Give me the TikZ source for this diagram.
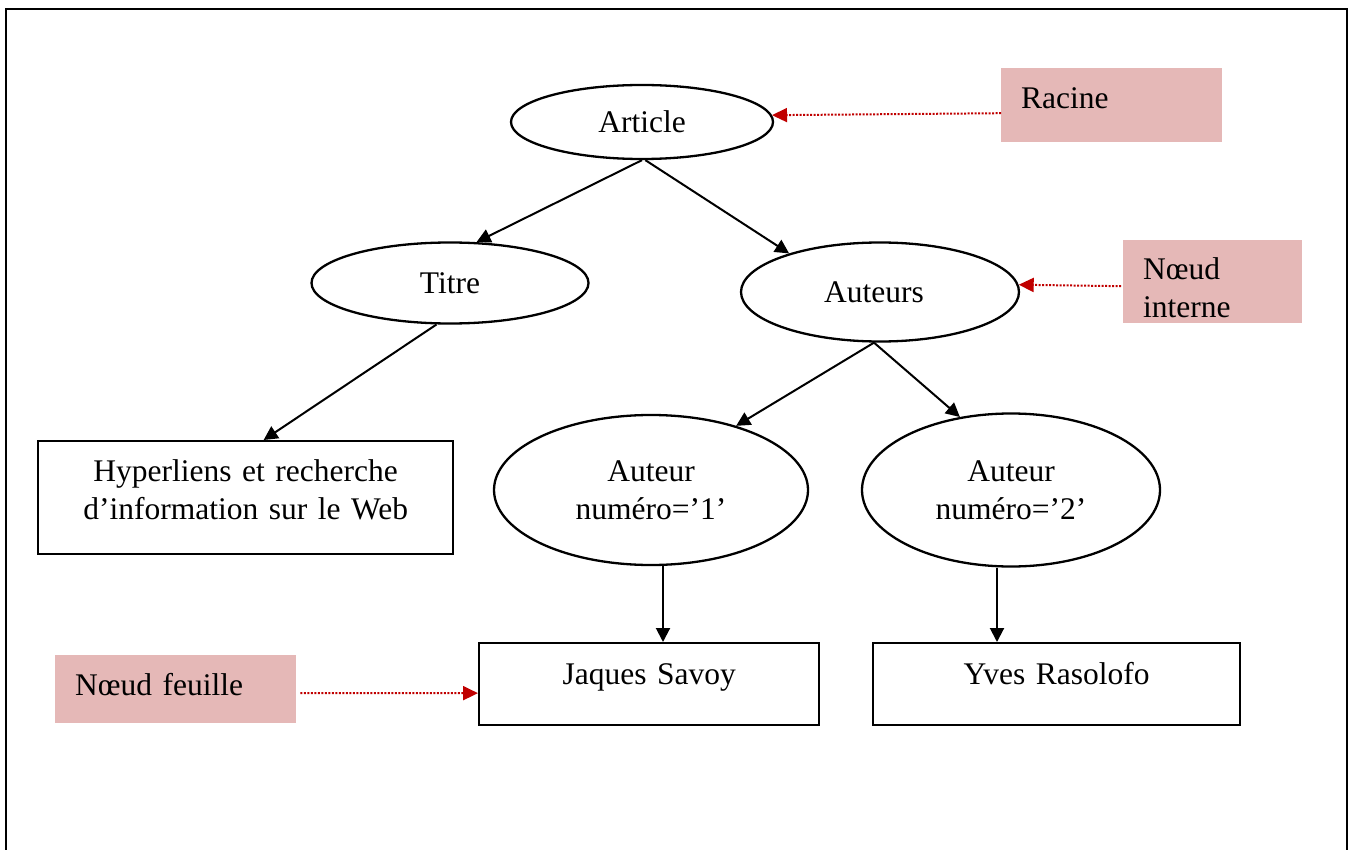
\documentclass[tikz,border=0pt]{standalone}
\usepackage{fontspec}
\setmainfont{Liberation Serif}
\usetikzlibrary{arrows.meta,shapes.geometric,calc}
\definecolor{pinkbox}{HTML}{E5B8B7}
\definecolor{darkred}{HTML}{C00000}
\tikzset{
  every node/.style={font=\fontsize{31.5}{38}\selectfont},
  oval/.style={draw,line width=2.3pt,ellipse,inner sep=0pt,align=center},
  leafbox/.style={draw,line width=2.3pt,rectangle,inner ysep=0pt,inner xsep=0pt,align=center},
  notebox/.style={fill=pinkbox,rectangle,inner xsep=20pt,inner ysep=0pt,align=left,anchor=north west},
  arr/.style={line width=2pt,-{Triangle[length=14pt,width=14pt]}},
  notearr/.style={darkred,line width=2pt,dash pattern=on 2pt off 1.5pt,-{Triangle[length=15pt,width=14pt]}}
}
\begin{document}
\begin{tikzpicture}[x=1pt,y=-1pt]
\useasboundingbox (0,0) rectangle (1354,850);
% outer frame (open at the bottom)
\draw[line width=2.5pt] (6,850) -- (6,9) -- (1347,9) -- (1347,850);

% tree nodes
\node[oval,minimum width=262pt,minimum height=74pt] (article) at (642,122) {Article};
\node[oval,minimum width=277pt,minimum height=81pt] (titre) at (450,283) {Titre};
\node[oval,minimum width=278pt,minimum height=99pt] (auteurs) at (880,292) {\raisebox{-4pt}{Auteurs}\hspace*{12pt}};
\node[oval,minimum width=314pt,minimum height=150pt] (a1) at (651,490) {Auteur\\numéro=’1’};
\node[oval,minimum width=298pt,minimum height=153pt] (a2) at (1011,490) {Auteur\\numéro=’2’};
\node[leafbox,text width=415pt,text height=40pt,text depth=73pt,anchor=north west] (hyp) at (37,440)
  {Hyperliens et recherche\\d’information sur le Web};
\node[leafbox,text width=340pt,text height=41pt,text depth=41pt,anchor=north west] (js) at (478,642) {Jaques Savoy};
\node[leafbox,text width=367pt,text height=41pt,text depth=41pt,anchor=north west] (yr) at (872,642) {Yves Rasolofo};

% annotation boxes
\node[notebox,text width=181pt,text height=40pt,text depth=34pt] (racine) at (1001,68) {Racine};
\node[notebox,text width=139pt,text height=39pt,text depth=44pt] (interne) at (1123,240) {Nœud\\interne};
\node[notebox,text width=201pt,text height=40pt,text depth=28pt] (feuille) at (55,655) {Nœud feuille};

% tree connectors
\draw[arr] (article.south) -- (titre.57);
\draw[arr] (article.-85) -- (auteurs.157);
\draw[arr] (titre.-108) -- ($(hyp.north)+(18,0)$);
\draw[arr] ([xshift=-6pt]auteurs.south) -- (a1.37);
\draw[arr] ([xshift=-6pt]auteurs.south) -- (a2.125);
\draw[arr] ([xshift=12pt]a1.south) -- ([xshift=12pt]a1.south |- js.north);
\draw[arr] ([xshift=-14pt]a2.south) -- ([xshift=-14pt]a2.south |- yr.north);

% annotation connectors
\draw[notearr] ([yshift=-8pt]racine.west) -- (article.3);
\draw[notearr] ([xshift=-2pt,yshift=-4.5pt]interne.west) -- (auteurs.3);
\draw[notearr] ([xshift=4pt,yshift=-4pt]feuille.east) -- ([yshift=-9pt]js.west);
\end{tikzpicture}
\end{document}
